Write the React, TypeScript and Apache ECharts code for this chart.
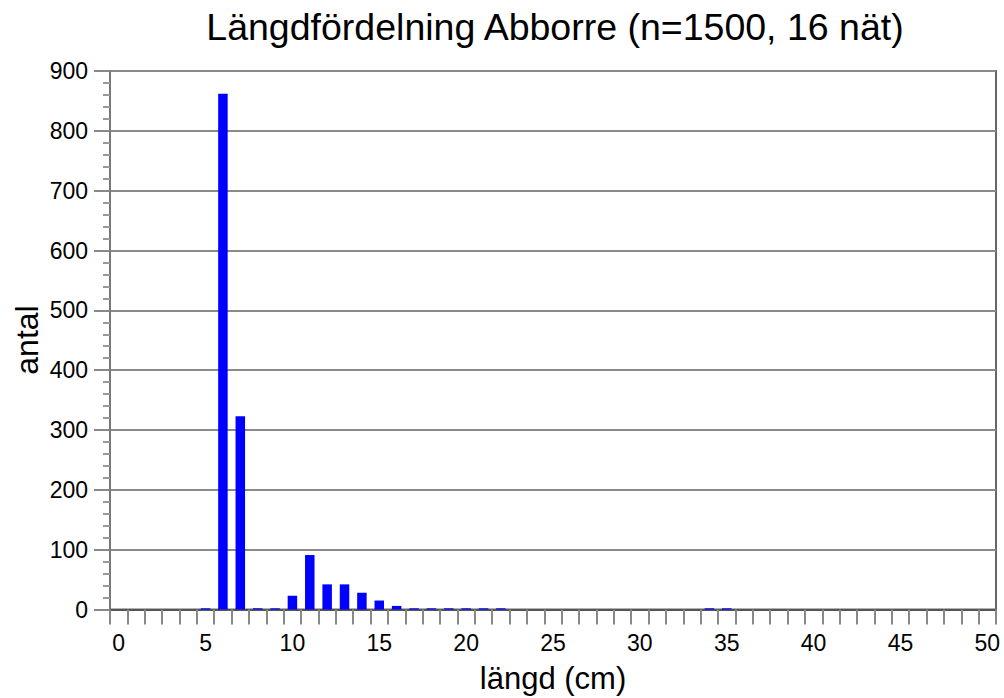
import React, { useEffect, useRef } from "react";
import * as echarts from "echarts";

const lengths: string[] = Array.from({ length: 51 }, (_, i) => String(i));
const counts: number[] = [
  0, 0, 0, 0, 0, 2, 862, 323, 2, 2,
  23, 91, 42, 42, 28, 15, 6, 2, 2, 2,
  2, 2, 2, 0, 0, 0, 0, 0, 0, 0,
  0, 0, 0, 0, 2, 2, 0, 0, 0, 0,
  0, 0, 0, 0, 0, 0, 0, 0, 0, 0,
  0,
];
const titleText = "Längdfördelning Abborre (n=1500, 16 nät)";
const xName = "längd (cm)";
const yName = "antal";

const FONT = "'Liberation Sans', Arial, Helvetica, sans-serif";

export default function App() {
  const ref = useRef<HTMLDivElement>(null);
  useEffect(() => {
    document.body.style.margin = "0";
    const chart = echarts.init(ref.current!, null, { renderer: "svg" });
    chart.setOption({
      animation: false,
      backgroundColor: "#ffffff",
      textStyle: { fontFamily: FONT },
      title: {
        text: titleText,
        left: 550,
        top: 3,
        textAlign: "center",
        textStyle: { fontSize: 37.5, fontWeight: "normal", color: "#000", fontFamily: FONT },
      },
      grid: {
        left: 110,
        top: 71,
        right: 8,
        bottom: 88.5,
        show: true,
        borderColor: "#666",
        borderWidth: 2,
        containLabel: false,
        outerBoundsMode: "none",
      },
      graphic: [
        {
          type: "text",
          x: 27,
          y: 340,
          rotation: Math.PI / 2,
          style: {
            text: yName,
            fontSize: 32,
            fontFamily: FONT,
            fill: "#000",
            textAlign: "center",
            textVerticalAlign: "middle",
          },
        },
      ],
      xAxis: {
        type: "category",
        data: lengths,
        boundaryGap: true,
        name: xName,
        nameLocation: "middle",
        nameGap: 53,
        nameTextStyle: { fontSize: 31, color: "#000", fontFamily: FONT },
        axisLine: { show: true, lineStyle: { color: "#555", width: 2 } },
        axisTick: {
          show: true,
          interval: 0,
          alignWithLabel: false,
          length: 15,
          lineStyle: { color: "#888", width: 2 },
        },
        axisLabel: {
          interval: 4,
          margin: 22,
          fontSize: 23,
          color: "#000",
          fontFamily: FONT,
        },
        splitLine: { show: false },
      },
      yAxis: {
        type: "value",
        min: 0,
        max: 900,
        interval: 100,
        axisLine: { show: true, lineStyle: { color: "#777", width: 2 } },
        axisTick: { show: true, length: 16, lineStyle: { color: "#888", width: 2 } },
        minorTick: { show: true, splitNumber: 5, length: 7, lineStyle: { color: "#999", width: 2 } },
        axisLabel: { margin: 22, fontSize: 23, color: "#000", fontFamily: FONT },
        splitLine: { show: true, lineStyle: { color: "#8a8a8a", width: 2 } },
      },
      series: [
        {
          type: "bar",
          data: counts,
          barWidth: 9.5,
          itemStyle: { color: "#0000ff" },
        },
      ],
    });
    return () => chart.dispose();
  }, []);
  return <div ref={ref} style={{ width: 1004, height: 698 }} />;
}
